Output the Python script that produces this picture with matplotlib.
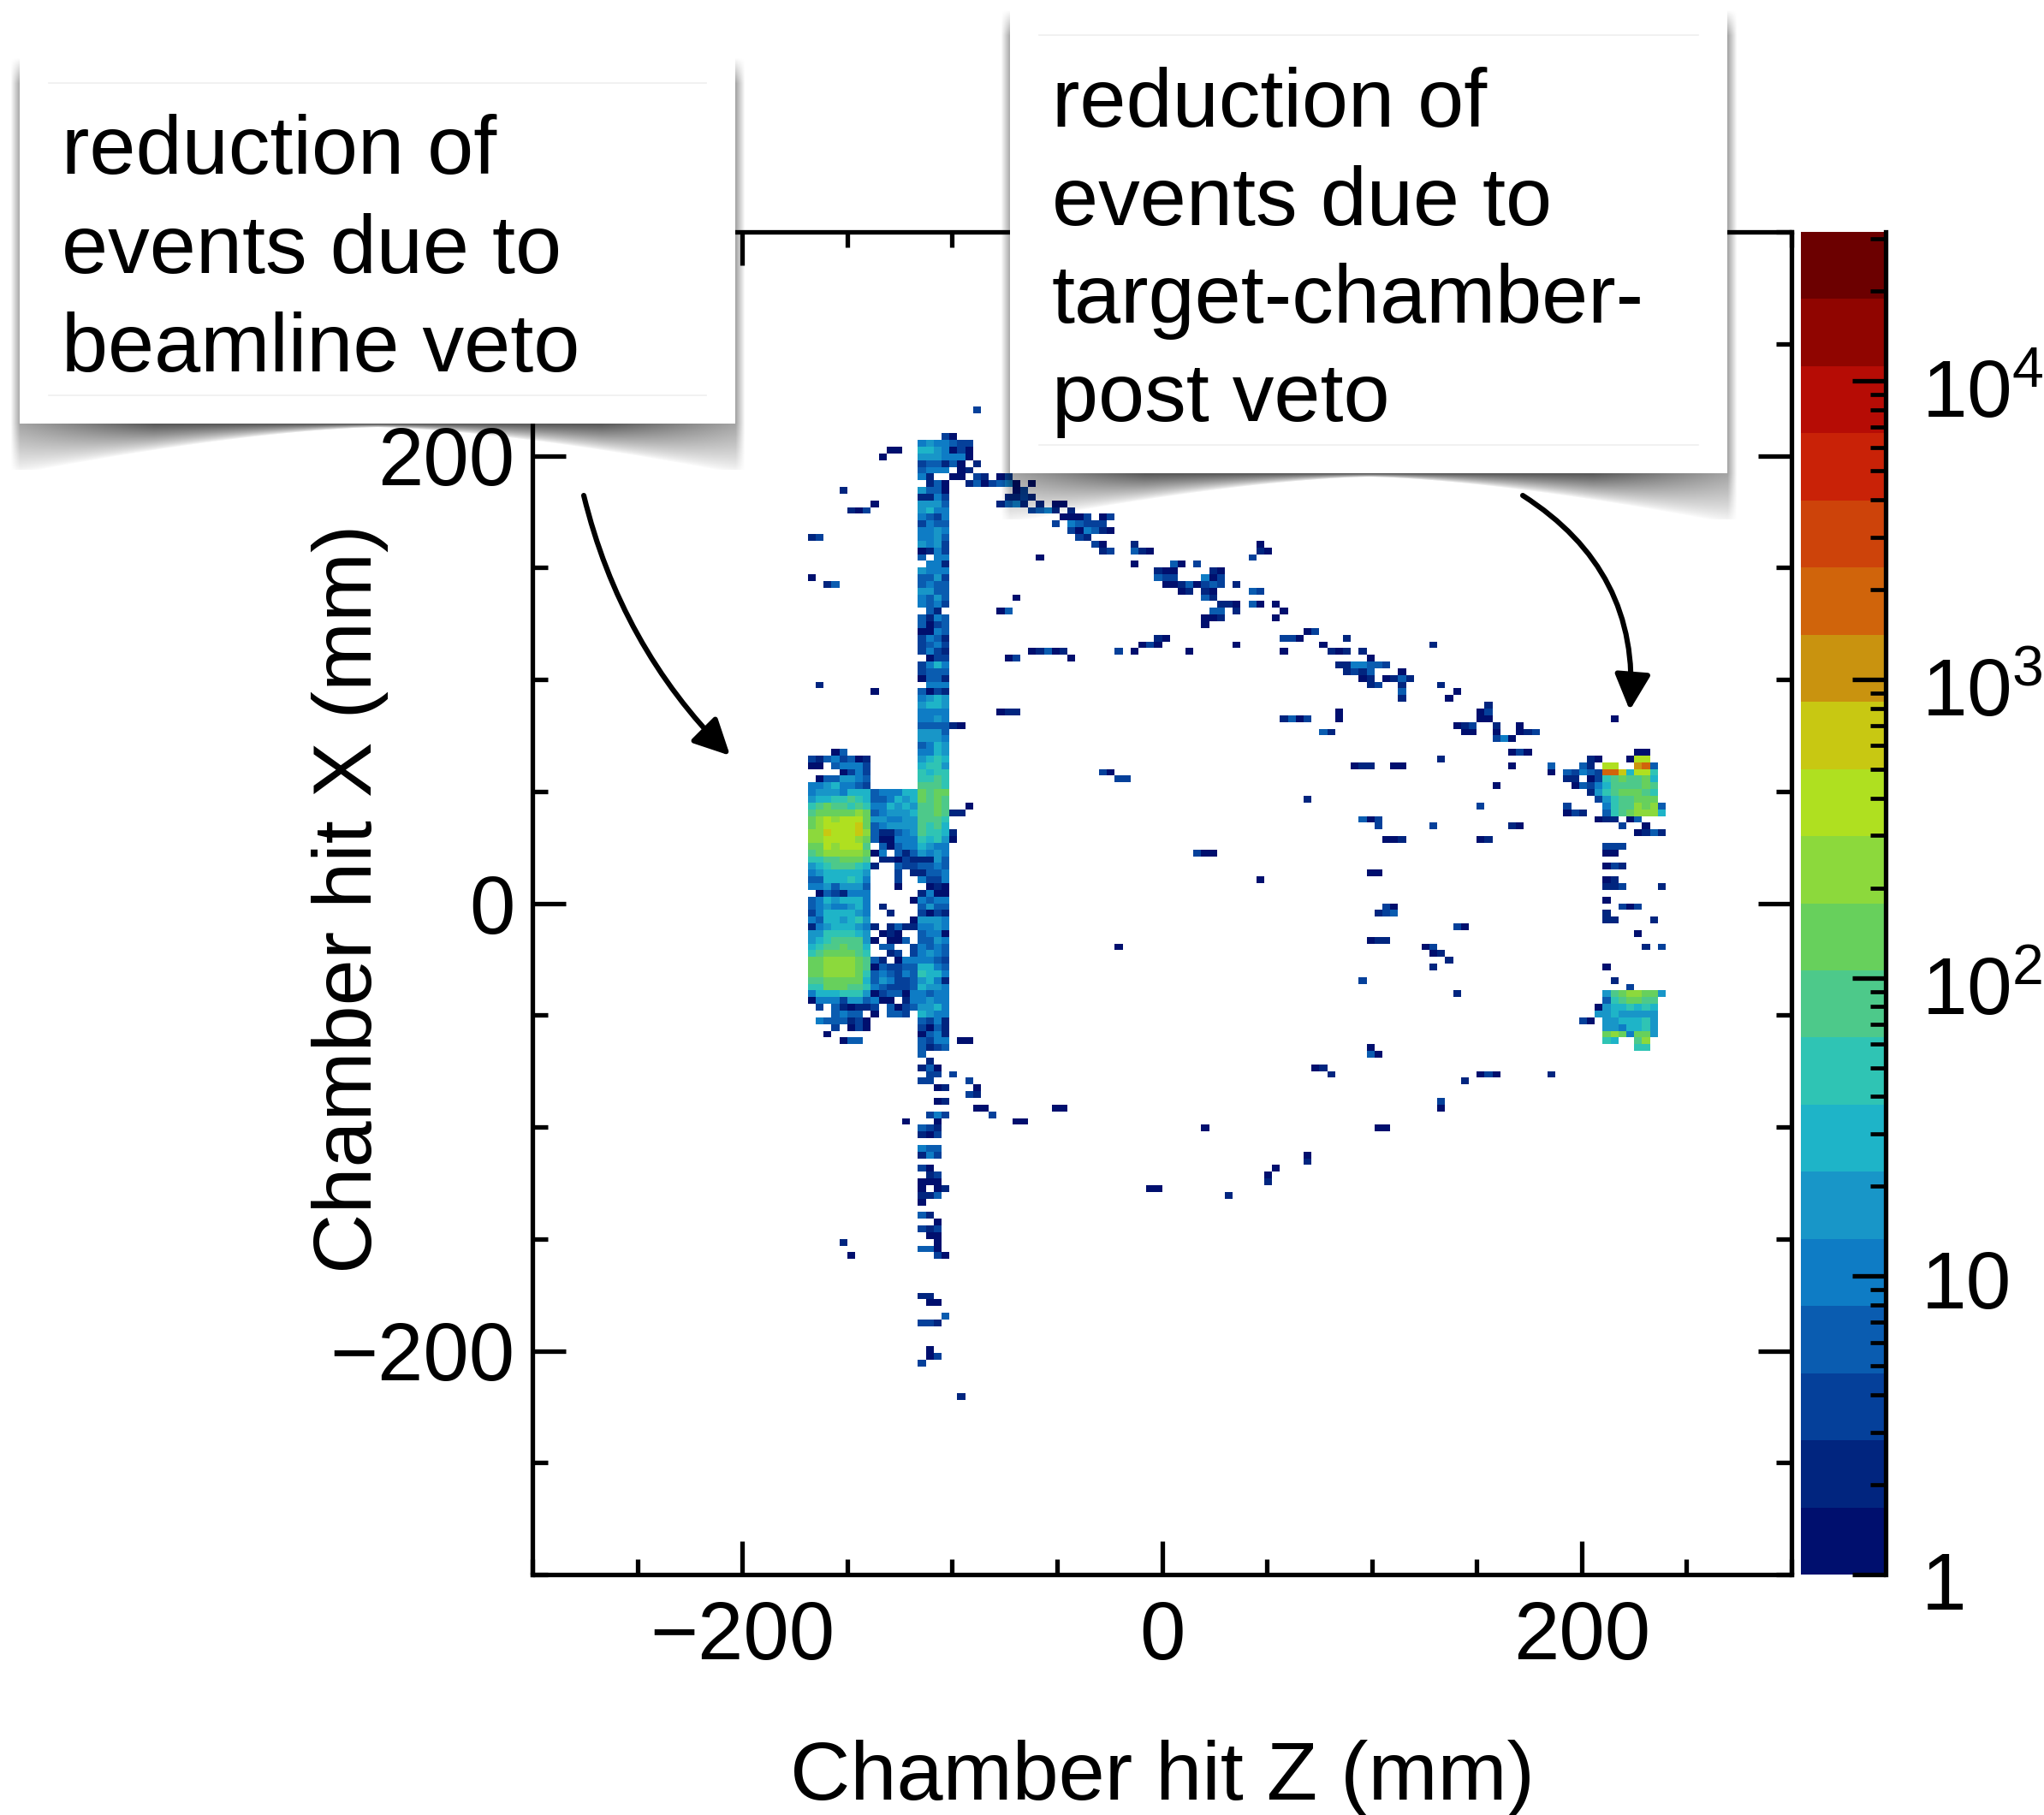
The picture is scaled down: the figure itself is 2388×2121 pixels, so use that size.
import numpy as np
import matplotlib
matplotlib.use('Agg')
import matplotlib.pyplot as plt
from matplotlib.colors import ListedColormap, LogNorm
from matplotlib.patches import Rectangle, FancyArrowPatch
from matplotlib.ticker import LogLocator, MultipleLocator, NullFormatter
from matplotlib.transforms import ScaledTranslation

plt.rcParams['font.family'] = ['Liberation Sans', 'DejaVu Sans']
plt.rcParams['mathtext.fontset'] = 'custom'
plt.rcParams['mathtext.rm'] = 'Liberation Sans'

W, H = 2388, 2121

# colour band of each histogram bin: '.' empty, 0-9 then a-e
band_colors = ['#000f6e', '#01257f', '#05409a', '#0a5cb0', '#0e7cc5', '#1896c8', '#1eb4c8',
               '#2fc4b4', '#4dc98a', '#67d05c', '#8cd93c', '#afe020', '#c8c812', '#c9930f',
               '#d0640b', '#cd430a', '#c92207', '#b60c05', '#900500', '#6c0000']

# z bins 49-52, rows from 30
column_rows = [
    '...2', '4544', '6654', '5554', '2331', '3444', '41..', '.130', '5330', '1142',
    '5553', '5644', '4324', '2433', '4454', '4453', '5452', '0142', '3.44', '.441',
    '5444', '3352', '3433', '5533', '4353', '4342', '.31.', '3143', '3023', '0043',
    '2431', '2342', '2421', '.022', '2464', '2333', '0331', '.444', '3021', '4565',
    '5665', '4444', '4454', '3333', '5553', '5554', '3465', '4465', '5676', '6775',
    '7677', '7787', '8887', '9899', '9898', '8898', '8898', '8887', '8786', '8776',
    '7675', '6544', '5454', '1153', '3343', '1334', '4224', '.010', '1400', '4344',
    '3533', '2021', '5554', '4454', '3440', '3354', '4343', '4543', '4432', '6643',
    '7664', '5641', '6554', '4344', '4544', '5564', '6544', '3241', '2031', '0341',
    '3244', '3123', '3...', '.1..', '130.', '.22.', '22..', '..01', '....', '..01',
    '....', '.242', '..0.', '321.', '102.', '....', '433.', '142.', '....', '20..',
    '.12.', '000.', '0.01', '113.', '0...', '....', '31..', '..0.', '212.', '.00.',
    '..0.', '330.', '..20', '....', '....', '....', '....', '....', '11..', '.00.',
    '....', '...3', '221.', '....', '....', '....', '.0..', '.02.', '2...']

# z bins 35-42, rows from 77
left_rows = [
    '...03...', '21342301', '00.34442', '....0242', '.0335543', '44564432', '45554666',
    '56677876', '78988787', '899999a9', '9ababbb9', '9abbbbc9', 'aacbbbca', 'aabbbba9',
    '99babbb8', '89aaaaa9', '77889998', '56788876', '45666665', '33666764', '44535553',
    '.0321444', '34656664', '34544564', '24666654', '43665675', '14566654', '55777765',
    '56788885', '67889886', '78999987', '99aaaa98', '99aaaa98', '99aaaa97', '88999996',
    '77999887', '46667775', '04442553', '.2.31011', '...3433.', '.4333120', '...2.020',
    '..0.....', '....033.']

# z bins 43-48, rows from 83
inner_rows = [
    '344466', '334656', '446565', '345556', '554455', '345555', '311345', '300444',
    '.30344', '04.313', '.11021', '1..322', '...2.1', '...2..', '...0..', '......',
    '.....0', '.1....', '..1...', '.....0', '1.1311', '.010..', '0.003.', '.33..2',
    '..12.2', '31.044', '032233', '343243', '354223', '432223', '023304', '400.14',
    '2.3023', '0.332.']

# z bins 131-143, rows from 77
post_top_rows = [
    '.........00..', '...10...0bb..', '..31.bb..de3.', '32432eec6bb7.', '11.027898896.',
    '.03246888898.', '...157899987.', '....25788999.', '2....4788a9a3', '021..3789aaa6',
    '....011.03...', '.......2..0..', '.........0131']

# z bins 133-143, rows from 113
post_bottom_rows = [
    '...589aa995', '...3789988.', '..05667676.', '..55655555.', '20.5566675.',
    '...5546675.', '...9a94995.', '...76..8a..', '.......77..']

# isolated bins, row: {z bin: band}
stray_rows = {
    26: {56: 2}, 30: {53: 0}, 31: {53: 3, 54: 2, 55: 2}, 32: {45: 0, 46: 0, 53: 0, 54: 2, 55: 0},
    33: {44: 0, 53: 4, 54: 4, 55: 0}, 34: {53: 3, 54: 0, 56: 1}, 35: {54: 0, 55: 1},
    36: {53: 0, 54: 0, 56: 2, 57: 1, 59: 0, 60: 2},
    37: {55: 1, 56: 3, 57: 0, 58: 2, 59: 3, 60: 4, 61: 0, 63: 0},
    38: {39: 1, 61: 0, 62: 2}, 39: {60: 1, 61: 1, 62: 2, 63: 1},
    40: {43: 0, 59: 1, 60: 3, 61: 4, 62: 1, 64: 1, 66: 0, 67: 0},
    41: {40: 1, 41: 0, 42: 2, 63: 2, 64: 3, 65: 4, 66: 1, 68: 1},
    42: {67: 0, 68: 0, 69: 0, 70: 2, 72: 0, 73: 2},
    43: {66: 2, 68: 4, 69: 3, 70: 2, 71: 2, 72: 2},
    44: {68: 2, 69: 0, 70: 4, 71: 3, 72: 1, 73: 0},
    45: {35: 1, 36: 2, 69: 2, 70: 1}, 46: {71: 2, 72: 0, 76: 1, 92: 0},
    47: {72: 1, 73: 2, 76: 3, 77: 1, 78: 0, 92: 1, 93: 0}, 48: {64: 0, 91: 2},
    49: {76: 0, 81: 3, 82: 0, 84: 2}, 50: {79: 1, 80: 0, 81: 0, 86: 1, 87: 0},
    51: {35: 0, 79: 3, 80: 2, 81: 2, 85: 4, 86: 0, 87: 2},
    52: {37: 1, 38: 3, 80: 0, 81: 0, 82: 1, 83: 3, 84: 0, 85: 2, 86: 3, 87: 2, 89: 1},
    53: {82: 0, 83: 1, 85: 1, 86: 0, 91: 3, 92: 2}, 54: {61: 0, 85: 3, 86: 1},
    55: {87: 1, 88: 1, 89: 0, 91: 3, 92: 0, 94: 0}, 56: {59: 0, 60: 3, 86: 3, 87: 3, 89: 1, 95: 0},
    57: {85: 0, 86: 0, 87: 1, 94: 0}, 58: {85: 0}, 59: {98: 0, 99: 2},
    60: {79: 1, 80: 0, 95: 2, 96: 2, 97: 0, 103: 1},
    61: {77: 0, 78: 2, 79: 0, 89: 0, 100: 0, 114: 1},
    62: {63: 0, 64: 1, 65: 3, 66: 0, 67: 1, 74: 2, 76: 0, 83: 0, 95: 0, 101: 1, 102: 0, 103: 1, 105: 1},
    63: {60: 0, 61: 2, 68: 0, 106: 0},
    64: {102: 1, 103: 1, 104: 4, 105: 4, 106: 3, 107: 3, 108: 2},
    65: {103: 1, 104: 2, 105: 1, 106: 3, 110: 0},
    66: {105: 0, 106: 1, 108: 0, 109: 1, 110: 3, 111: 1},
    67: {36: 1, 106: 1, 107: 2, 110: 1, 115: 1}, 68: {43: 0, 110: 3, 117: 0},
    69: {110: 1, 116: 0}, 70: {121: 1}, 71: {59: 0, 60: 1, 61: 1, 102: 0, 120: 0, 121: 2},
    72: {95: 1, 96: 3, 97: 0, 98: 2, 102: 0, 120: 0, 121: 0, 137: 0},
    73: {53: 1, 54: 0, 117: 0, 118: 1, 119: 2, 122: 1, 125: 0},
    74: {100: 3, 101: 1, 118: 0, 119: 0, 122: 0, 125: 0, 126: 1, 127: 2},
    75: {122: 2, 123: 4, 124: 0}, 77: {124: 0, 125: 2, 126: 0}, 78: {115: 1},
    79: {104: 0, 105: 1, 106: 1, 109: 0, 110: 0, 124: 0, 129: 3}, 80: {72: 2, 73: 0, 129: 0},
    81: {74: 2, 75: 2}, 82: {122: 0}, 84: {98: 1}, 85: {55: 0, 120: 2}, 86: {53: 1, 54: 1},
    87: {105: 3, 106: 0, 107: 2}, 88: {107: 2, 114: 2, 124: 1, 125: 0}, 89: {53: 1},
    90: {53: 0, 108: 0, 109: 0, 110: 1, 120: 0, 121: 1}, 91: {136: 2, 137: 2, 138: 2},
    92: {84: 2, 85: 0, 86: 0, 136: 0, 137: 0}, 94: {136: 0, 137: 2, 138: 1},
    95: {106: 0, 107: 0}, 96: {92: 0, 136: 0, 137: 1}, 97: {136: 1, 137: 1, 138: 2, 143: 1},
    99: {136: 0}, 100: {108: 2, 109: 0, 138: 2, 139: 0, 140: 2},
    101: {107: 1, 108: 2, 109: 3, 136: 1}, 102: {136: 1, 137: 1, 142: 1}, 103: {117: 2, 118: 0},
    104: {140: 0}, 105: {106: 0, 107: 1, 108: 1}, 106: {74: 0, 113: 0, 114: 2, 141: 1, 143: 2},
    107: {114: 0, 115: 1}, 108: {116: 1}, 109: {114: 1, 136: 0}, 111: {105: 2, 137: 1},
    112: {139: 2}, 113: {117: 1}, 120: {54: 0, 55: 0}, 121: {106: 0}, 122: {106: 3, 107: 0},
    124: {99: 0, 100: 1}, 125: {53: 2, 101: 1, 120: 0, 121: 2, 122: 0, 129: 1},
    126: {55: 2, 118: 1}, 127: {56: 0}, 128: {55: 2, 56: 1}, 129: {115: 2},
    130: {56: 0, 57: 0, 66: 0, 67: 0, 115: 0}, 131: {58: 2}, 132: {47: 0, 61: 0, 62: 0},
    133: {85: 0, 107: 0, 108: 0}, 137: {98: 0}, 138: {98: 1}, 139: {94: 0}, 140: {93: 0},
    141: {93: 1}, 142: {78: 0, 79: 0}, 143: {88: 1}, 150: {39: 1}, 152: {40: 0}, 173: {54: 1}}

box_left_lines = ['reduction of', 'events due to', 'beamline veto']
box_right_lines = ['reduction of', 'events due to', 'target-chamber-', 'post veto']

xticks = [-200, 0, 200]
yticks = [-200, 0, 200]
cbar_ticks = [1, 10, 100, 1000, 10000]
cbar_labels = ['1', '10', r'$\mathregular{10^{2}}$', r'$\mathregular{10^{3}}$', r'$\mathregular{10^{4}}$']

band_width = 0.225   # decades per colour band
levels = np.full((200, 160), np.nan)


def put_rows(rows, first_row, first_col):
    for r, line in enumerate(rows):
        for c, ch in enumerate(line):
            if ch != '.':
                levels[first_row + r, first_col + c] = int(ch, 16)


put_rows(column_rows, 30, 49)
put_rows(left_rows, 77, 35)
put_rows(inner_rows, 83, 43)
put_rows(post_top_rows, 77, 131)
put_rows(post_bottom_rows, 113, 133)
for row, cells in stray_rows.items():
    for col, band in cells.items():
        levels[row, col] = band

counts = 10 ** ((levels + 0.5) * band_width)
z_edges = np.linspace(-300, 300, 161)
x_edges = np.linspace(300, -300, 201)

fig = plt.figure(figsize=(W / 100, H / 100), dpi=100, facecolor='white')


def px_axes(left, top, right, bottom):
    return fig.add_axes([left / W, 1 - bottom / H, (right - left) / W, (bottom - top) / H])


ax = px_axes(622, 271, 2093, 1840)
mesh = ax.pcolormesh(z_edges, x_edges, counts, cmap=ListedColormap(band_colors),
                     norm=LogNorm(vmin=1, vmax=10 ** (band_width * len(band_colors))))
ax.set_xlim(-300, 300)
ax.set_ylim(-300, 300)
ax.set_xticks(xticks)
ax.set_yticks(yticks)
ax.set_xticklabels(['\u2212200', '0', '200'])
ax.set_yticklabels(['\u2212200', '0', '200'])
ax.xaxis.set_minor_locator(MultipleLocator(50))
ax.yaxis.set_minor_locator(MultipleLocator(50))
ax.tick_params(which='major', direction='in', top=True, right=True, length=28, width=3.8,
               labelsize=69, pad=15)
ax.tick_params(which='minor', direction='in', top=True, right=True, length=13, width=3.8)
ax.tick_params(axis='x', which='major', pad=21)
for s in ax.spines.values():
    s.set_linewidth(3.8)
ax.set_xlabel('Chamber hit Z (mm)', fontsize=70)
ax.set_ylabel('Chamber hit X (mm)', fontsize=70)
ax.xaxis.set_label_coords(0.5, -0.123)
ax.yaxis.set_label_coords(-0.114, 0.503)

cax = px_axes(2104, 271, 2203, 1840)
cbar = fig.colorbar(mesh, cax=cax)
cbar.outline.set_visible(False)
cax.spines['right'].set_visible(True)
cax.spines['right'].set_linewidth(3.8)
cax.yaxis.set_ticks(cbar_ticks)
cax.yaxis.set_ticklabels(cbar_labels)
cax.yaxis.set_minor_locator(LogLocator(base=10, subs=range(2, 10)))
cax.yaxis.set_minor_formatter(NullFormatter())
cax.tick_params(which='major', direction='in', length=28, width=3.8, labelsize=68, pad=30)
cax.tick_params(which='minor', direction='in', length=13, width=3.4)
# the powers sit a little lower than their ticks
for lab, dy in zip(cax.get_yticklabels(), [-5, -2, -6, -6, -6]):
    lab.set_transform(lab.get_transform() + ScaledTranslation(0, dy / 72, fig.dpi_scale_trans))

# callouts and arrows sit on top, in pixel coordinates
over = fig.add_axes([0, 0, 1, 1], zorder=10)
over.patch.set_visible(False)
over.axis('off')


def callout(left, top, right, bottom, lines, text_x, first_base, step):
    w, h = right - left, bottom - top
    side, drop = 11, 54
    yy, xx = np.mgrid[0:h + drop, -side:w + side]
    t = np.clip(np.abs(xx - w / 2) / (w / 2), 0, 1)
    curl = 4 + drop * t ** 1.5
    below = np.clip(1 - (yy - h) / curl, 0, 1) ** 0.8
    out = np.maximum(np.maximum(-xx, xx - w), 0)
    sidefade = np.clip(1 - out / side, 0, 1)
    topfade = np.clip(yy / 30, 0, 1)
    alpha = np.minimum(0.36 + 0.8 * (1 - t), 0.66) * below * sidefade * topfade
    rgba = np.zeros(alpha.shape + (4,))
    rgba[..., 3] = alpha
    over.imshow(rgba, extent=(left - side, right + side, bottom + drop, top), aspect='auto',
                interpolation='bilinear', zorder=1)
    over.add_patch(Rectangle((left, top), w, h, fc='white', ec='none', zorder=2))
    for y in (top + 30, bottom - 33):
        over.plot([left + 34, right - 34], [y, y], color='#efefef', lw=1.2, zorder=3)
    for k, line in enumerate(lines):
        over.text(text_x, first_base + k * step, line, fontsize=70, va='baseline', ha='left', zorder=4)


callout(23, 67, 859, 495, box_left_lines, 72, 203, 115.5)
callout(1180, 11, 2018, 553, box_right_lines, 1229, 148, 114.5)

over.add_patch(FancyArrowPatch((682, 579), (853, 883), connectionstyle='arc3,rad=0.14',
                               arrowstyle='-|>,head_length=1.5,head_width=0.75', mutation_scale=17,
                               lw=4.4, color='black', shrinkA=0, shrinkB=0, zorder=5))
over.add_patch(FancyArrowPatch((1779, 579), (1904, 830), connectionstyle='arc3,rad=-0.3',
                               arrowstyle='-|>,head_length=1.5,head_width=0.75', mutation_scale=17,
                               lw=4.4, color='black', shrinkA=0, shrinkB=0, zorder=5))
over.set_xlim(0, W)
over.set_ylim(H, 0)

fig.savefig('out.png', dpi=100)
